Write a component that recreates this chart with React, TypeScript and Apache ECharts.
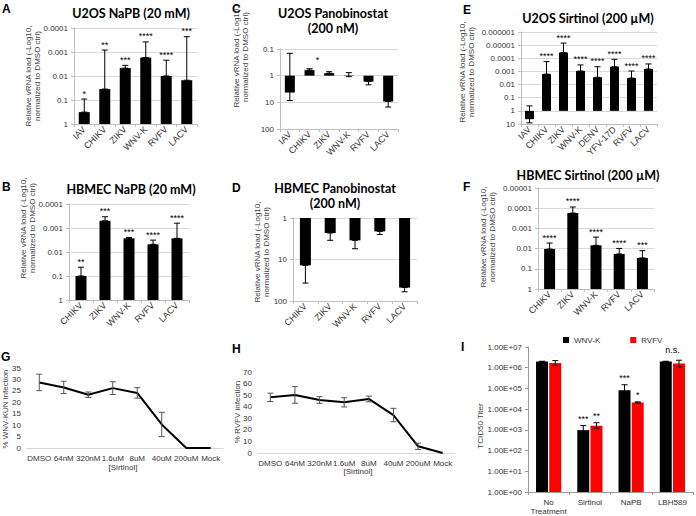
import React, { useEffect, useRef } from 'react';
import * as echarts from 'echarts';

// ---------- Panel A: U2OS NaPB ----------
const catA = ['IAV', 'CHIKV', 'ZIKV', 'WNV-K', 'RVFV', 'LACV'];
const valA = [0.32, 0.035, 0.0047, 0.0017, 0.01, 0.015];
const errA = [[0.091, 0.32], [0.00083, 0.035], [0.0036, 0.0047], [0.00038, 0.0017], [0.0022, 0.01], [0.00023, 0.015]];
const sigA = ['*', '**', '***', '****', '****', '***'];

// ---------- Panel B: HBMEC NaPB ----------
const catB = ['CHIKV', 'ZIKV', 'WNV-K', 'RVFV', 'LACV'];
const valB = [0.1, 0.0005, 0.0027, 0.0048, 0.0027];
const errB = [[0.043, 0.1], [0.00034, 0.0005], [0.0025, 0.0027], [0.0032, 0.0048], [0.00063, 0.0027]];
const sigB = ['**', '***', '***', '****', '****'];

// ---------- Panel C: U2OS Panobinostat ----------
const catC = ['IAV', 'CHIKV', 'ZIKV', 'WNV-K', 'RVFV', 'LACV'];
const valC = [4.3, 0.62, 0.81, 0.97, 1.67, 9.3];
const errC = [[0.145, 8.6], [0.55, 0.62], [0.71, 0.81], [0.77, 1.09], [1.67, 2.2], [9.3, 15]];
const sigC = ['', '*', '', '', '', ''];

// ---------- Panel D: HBMEC Panobinostat ----------
const catD = ['CHIKV', 'ZIKV', 'WNV-K', 'RVFV', 'LACV'];
const valD = [13.8, 2.3, 3.45, 2.1, 47.5];
const errD = [[13.8, 37], [2.3, 3.45], [3.45, 5.5], [2.1, 2.5], [47.5, 60]];

// ---------- Panel E: U2OS Sirtinol ----------
const catE = ['IAV', 'CHIKV', 'ZIKV', 'WNV-K', 'DENV', 'YFV-17D', 'RVFV', 'LACV'];
const valE = [4.3, 0.0016, 0.000037, 0.00093, 0.0028, 0.00044, 0.0032, 0.00066];
const errE = [[0.42, 8.2], [0.00018, 0.0016], [0.000007, 0.000037], [0.00032, 0.00093], [0.00044, 0.0028], [0.00012, 0.00044], [0.00093, 0.0032], [0.00027, 0.00066]];
const sigE = ['', '****', '****', '****', '****', '****', '****', '****'];

// ---------- Panel F: HBMEC Sirtinol ----------
const catF = ['CHIKV', 'ZIKV', 'WNV-K', 'RVFV', 'LACV'];
const valF = [0.0105, 0.000174, 0.0069, 0.0185, 0.029];
const errF = [[0.0053, 0.0105], [0.000087, 0.000174], [0.0027, 0.0069], [0.0098, 0.0185], [0.0127, 0.029]];
const sigF = ['****', '****', '****', '****', '***'];

// ---------- Panels G & H: dose response ----------
const doses = ['DMSO', '64nM', '320nM', '1.6uM', '8uM', '40uM', '200uM', 'Mock'];
const valG = [28.7, 26.5, 23.3, 26.2, 24.1, 10.3, 0, 0];
const sdG = [3.6, 2.7, 1.2, 2.8, 2.3, 5.3, 0, 0];
const valH = [48.1, 50.2, 45.8, 43.8, 46.7, 32.8, 5.8, 0];
const sdH = [3.6, 7.2, 2.9, 4.0, 2.5, 5.8, 2.7, 0];

// ---------- Panel I: TCID50 ----------
const catI = ['No\nTreatment', 'Sirtinol', 'NaPB', 'LBH589'];
const wnvI = [2.0e6, 970, 8.2e4, 2.0e6];
const wnvErrI = [[1.95e6, 2.05e6], [600, 1600], [5e4, 1.5e5], [1.95e6, 2.05e6]];
const rvfvI = [1.7e6, 1600, 2.1e4, 1.6e6];
const rvfvErrI = [[1.25e6, 2.2e6], [1200, 2200], [2.0e4, 2.25e4], [1.1e6, 2.3e6]];
const sigWnvI = ['', '***', '***', ''];
const sigRvfvI = ['', '**', '*', ''];
const sigGroupI = ['', '', '', 'n.s.'];

const FONT = 'Liberation Sans';
const decFmt = (v: number) => {
  const e = Math.round(Math.log10(v));
  return e < 0 ? '0.' + '0'.repeat(-e - 1) + '1' : '1' + '0'.repeat(e);
};
const sciFmt = (v: number) => {
  const e = Math.round(Math.log10(v));
  return '1.00E+' + (e < 10 ? '0' : '') + e;
};

function errSeries(idx: number, bounds: number[][], offset = 0, color = '#000', cap = 3, cats?: number[]) {
  return {
    type: 'custom',
    xAxisIndex: idx,
    yAxisIndex: idx,
    z: 5,
    silent: true,
    encode: { x: 0, y: [1, 2] },
    data: bounds.map((b, i) => [cats ? cats[i] : i, b[0], b[1]]),
    renderItem: (_p: any, api: any) => {
      const c = api.value(0);
      const a = api.coord([c, api.value(1)]);
      const b = api.coord([c, api.value(2)]);
      const x = a[0] + offset;
      const st = { stroke: color, lineWidth: 1 };
      return {
        type: 'group',
        children: [
          { type: 'line', shape: { x1: x, y1: a[1], x2: x, y2: b[1] }, style: st },
          { type: 'line', shape: { x1: x - cap, y1: a[1], x2: x + cap, y2: a[1] }, style: st },
          { type: 'line', shape: { x1: x - cap, y1: b[1], x2: x + cap, y2: b[1] }, style: st },
        ],
      };
    },
  };
}

function sigSeries(idx: number, texts: string[], at: number[], offset = 0, dy = 1) {
  const items = texts.map((t, i) => ({ t, c: i, v: at[i] })).filter((d) => d.t);
  return {
    type: 'custom',
    xAxisIndex: idx,
    yAxisIndex: idx,
    z: 6,
    silent: true,
    encode: { x: 0, y: 1 },
    data: items.map((d) => [d.c, d.v]),
    renderItem: (p: any, api: any) => {
      const pt = api.coord([api.value(0), api.value(1)]);
      return {
        type: 'text',
        x: pt[0] + offset,
        y: pt[1] - dy,
        style: {
          text: items[p.dataIndex].t,
          fontSize: 9,
          fontFamily: FONT,
          fill: '#000',
          align: 'center',
          verticalAlign: 'bottom',
        },
      };
    },
  };
}

const tickLabel = { fontSize: 8, fontFamily: FONT, color: '#333' };
const grey = '#bfbfbf';

function logPanelAxes(cats: string[], min: number, max: number) {
  return {
    x: {
      type: 'category',
      data: cats,
      axisLine: { lineStyle: { color: grey } },
      axisTick: { show: true, length: 3, lineStyle: { color: grey } },
      axisLabel: { ...tickLabel, fontSize: 9, rotate: 45, margin: 4, interval: 0 },
      splitLine: { show: false },
    },
    y: {
      type: 'log',
      logBase: 10,
      inverse: true,
      min,
      max,
      axisLine: { show: true, lineStyle: { color: grey } },
      axisTick: { show: true, length: 3, lineStyle: { color: grey } },
      axisLabel: { ...tickLabel, margin: 6, formatter: decFmt },
      splitLine: { show: true, lineStyle: { color: '#d9d9d9' } },
      minorTick: { show: false },
    },
  };
}

const App: React.FC = () => {
  const ref = useRef<HTMLDivElement>(null);

  useEffect(() => {
    if (!ref.current) return;
    const chart = echarts.init(ref.current, undefined, { renderer: 'svg' });

    const grids = [
      { left: 74, top: 28, width: 123, height: 96 }, // A
      { left: 69, top: 204, width: 120, height: 96 }, // B
      { left: 280, top: 49, width: 118, height: 80 }, // C
      { left: 293, top: 218, width: 124, height: 83 }, // D
      { left: 521, top: 32, width: 136, height: 92 }, // E
      { left: 538, top: 188, width: 116, height: 101 }, // F
      { left: 27, top: 368, width: 196, height: 80 }, // G
      { left: 258, top: 372, width: 197, height: 81 }, // H
      { left: 528, top: 347, width: 165, height: 146 }, // I
    ];

    const ax = [
      logPanelAxes(catA, 0.0001, 1),
      logPanelAxes(catB, 0.0001, 1),
      logPanelAxes(catC, 0.1, 100),
      logPanelAxes(catD, 1, 100),
      logPanelAxes(catE, 0.000001, 10),
      logPanelAxes(catF, 0.00001, 1),
    ];

    const lineX = () => ({
      type: 'category',
      data: doses,
      boundaryGap: true,
      axisLine: { lineStyle: { color: '#d9d9d9' } },
      axisTick: { show: false },
      axisLabel: { ...tickLabel, fontSize: 8, margin: 6, interval: 0 },
    });

    const xAxis: any[] = [
      ...ax.map((a) => a.x),
      lineX(),
      lineX(),
      {
        type: 'category',
        data: catI,
        axisLine: { lineStyle: { color: '#999' } },
        axisTick: { show: true, length: 3, lineStyle: { color: '#999' } },
        axisLabel: { ...tickLabel, margin: 6, lineHeight: 9, interval: 0 },
      },
    ];
    const yAxis: any[] = [
      ...ax.map((a) => a.y),
      {
        type: 'value', min: 0, max: 35, interval: 5,
        axisLine: { show: false }, axisTick: { show: false }, splitLine: { show: false },
        axisLabel: { ...tickLabel, margin: 6 },
      },
      {
        type: 'value', min: 0, max: 70, interval: 10,
        axisLine: { show: false }, axisTick: { show: false }, splitLine: { show: false },
        axisLabel: { ...tickLabel, margin: 6 },
      },
      {
        type: 'log', logBase: 10, min: 1, max: 1e7,
        axisLine: { show: true, lineStyle: { color: '#999' } },
        axisTick: { show: true, length: 3, lineStyle: { color: '#999' } },
        splitLine: { show: false },
        axisLabel: { ...tickLabel, margin: 6, formatter: sciFmt },
      },
    ];
    xAxis.forEach((a, i) => (a.gridIndex = i));
    yAxis.forEach((a, i) => (a.gridIndex = i));

    const bar = (idx: number, data: number[], width: number, name?: string, color = '#000') => ({
      type: 'bar', name, xAxisIndex: idx, yAxisIndex: idx, data, barWidth: width,
      itemStyle: { color }, silent: true, z: 2,
    });
    const topOf = (e: number[][]) => e.map((b) => Math.min(b[0], b[1]));
    const idxWithSd = (sd: number[]) => sd.map((s, i) => (s > 0 ? i : -1)).filter((i) => i >= 0);
    const gIdx = idxWithSd(sdG);
    const hIdx = idxWithSd(sdH);

    const series: any[] = [
      bar(0, valA, 11), errSeries(0, errA), sigSeries(0, sigA, topOf(errA)),
      bar(1, valB, 11), errSeries(1, errB), sigSeries(1, sigB, topOf(errB)),
      bar(2, valC, 10), errSeries(2, errC), sigSeries(2, sigC, topOf(errC), 8, 4),
      bar(3, valD, 11), errSeries(3, errD),
      bar(4, valE, 9), errSeries(4, errE), sigSeries(4, sigE, topOf(errE)),
      bar(5, valF, 11), errSeries(5, errF), sigSeries(5, sigF, topOf(errF)),
      {
        type: 'line', xAxisIndex: 6, yAxisIndex: 6, data: valG, symbol: 'none',
        lineStyle: { color: '#000', width: 2 }, z: 3,
      },
      errSeries(6, gIdx.map((i) => [valG[i] - sdG[i], valG[i] + sdG[i]]), 0, '#555', 3, gIdx),
      {
        type: 'line', xAxisIndex: 7, yAxisIndex: 7, data: valH, symbol: 'none',
        lineStyle: { color: '#000', width: 2 }, z: 3,
      },
      errSeries(7, hIdx.map((i) => [valH[i] - sdH[i], valH[i] + sdH[i]]), 0, '#555', 3, hIdx),
      { ...bar(8, wnvI, 12, 'WNV-K', '#000'), barGap: '10%' },
      { ...bar(8, rvfvI, 12, 'RVFV', '#ff0000'), barGap: '10%' },
      errSeries(8, wnvErrI, -6.6, '#000', 3),
      errSeries(8, rvfvErrI, 6.6, '#000', 3),
      sigSeries(8, sigWnvI, wnvErrI.map((b) => b[1]), -6.6, 2),
      sigSeries(8, sigRvfvI, rvfvErrI.map((b) => b[1]), 6.6, 2),
      sigSeries(8, sigGroupI, wnvErrI.map((b, i) => Math.max(b[1], rvfvErrI[i][1])), 0, 6),
    ];

    const letter = (t: string, x: number, y: number) => ({
      type: 'text', x, y,
      style: { text: t, fontSize: 12, fontWeight: 'bold', fontFamily: FONT, fill: '#000', align: 'left', verticalAlign: 'top' },
    });
    const title = (t: string, x: number, y: number) => ({
      type: 'text', x, y,
      style: { text: t, fontSize: 12.5, fontWeight: 'bold', fontFamily: 'Lato', fill: '#000', align: 'center', verticalAlign: 'middle' },
    });
    const yname = (t: string, x: number, y: number) => ({
      type: 'text', x, y, rotation: Math.PI / 2,
      style: { text: t, fontSize: 8, fontFamily: FONT, fill: '#404040', align: 'center', verticalAlign: 'middle', lineHeight: 9 },
    });
    const plain = (t: string, x: number, y: number) => ({
      type: 'text', x, y,
      style: { text: t, fontSize: 8, fontFamily: FONT, fill: '#333', align: 'center', verticalAlign: 'middle' },
    });
    const vr = 'Relative vRNA load (-Log10,\nnormalized to DMSO ctrl)';

    const graphic = [
      letter('A', 2, 3), letter('B', 2, 181), letter('C', 232, 3), letter('D', 232, 182),
      letter('E', 463, 4), letter('F', 463, 181), letter('G', 1, 351), letter('H', 232, 343), letter('I', 461, 341),
      title('U2OS NaPB (20 mM)', 131, 13),
      title('HBMEC NaPB (20 mM)', 131, 189),
      title('U2OS Panobinostat', 333, 13), title('(200 nM)', 333, 28),
      title('HBMEC Panobinostat', 335, 188), title('(200 nM)', 335, 203),
      title('U2OS Sirtinol (200 µM)', 588, 18),
      title('HBMEC Sirtinol (200 µM)', 588, 175),
      yname(vr, 32.5, 76), yname(vr, 27.5, 228), yname(vr, 241, 57), yname(vr, 262, 252),
      yname(vr, 467, 72), yname(vr, 488, 237),
      yname('% WNV-KUN infection', 5, 409), yname('% RVFV infection', 237, 412), yname('TCID50 Titer', 480, 426),
      plain('[Sirtinol]', 123, 467), plain('[Sirtinol]', 358, 471),
    ];

    chart.setOption({
      animation: false,
      backgroundColor: '#fff',
      grid: grids.map((g) => ({ ...g, containLabel: false })),
      xAxis,
      yAxis,
      series,
      legend: {
        data: ['WNV-K', 'RVFV'], left: 563, top: 336, icon: 'rect', itemWidth: 6, itemHeight: 6,
        itemGap: 30, padding: 0, selectedMode: false,
        textStyle: { fontSize: 8, fontFamily: FONT, color: '#333' },
      },
      graphic,
    });
    return () => chart.dispose();
  }, []);

  return <div ref={ref} style={{ position: 'absolute', left: 0, top: 0, width: 696, height: 516 }} />;
};

export default App;
